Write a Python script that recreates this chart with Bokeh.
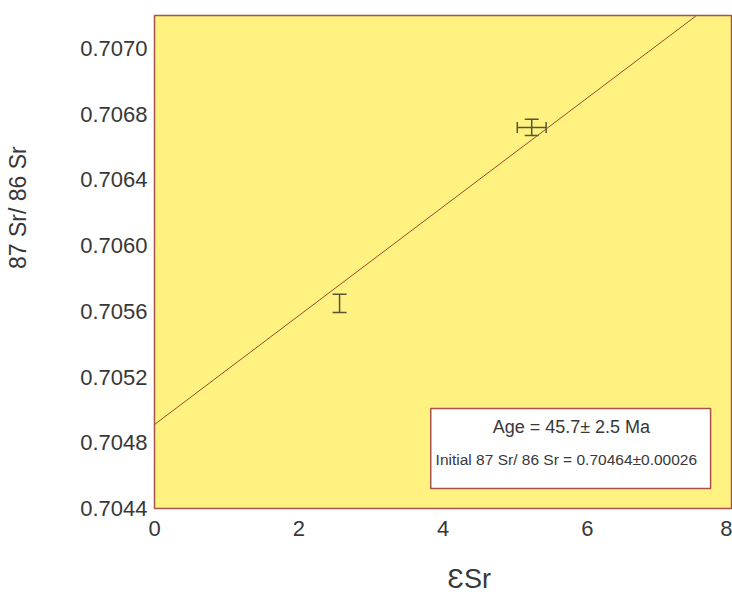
import math
from bokeh.plotting import figure
from bokeh.models import (ColumnDataSource, Whisker, TeeHead, Slope, BoxAnnotation,
                          Label, FixedTicker)
from bokeh.embed import file_html
from bokeh.resources import INLINE

# ---- data ----
pt_x = [2.566, 5.23]
pt_y = [0.705648, 0.706719]
pt_yerr = [0.000055, 0.000049]
pt2_xerr = [0.2]

fit_intercept = 0.704911
fit_slope = 0.0003312

x_ticks = [0, 2, 4, 6, 8]
y_ticks = [0.7044, 0.7048, 0.7052, 0.7056, 0.7060, 0.7064, 0.7068, 0.7072]
y_tick_labels = ["0.7044", "0.7048", "0.7052", "0.7056", "0.7060", "0.7064", "0.7068", "0.7070"]

age_text = "Age = 45.7\u00b1 2.5 Ma"
init_text = "Initial 87 Sr/ 86 Sr = 0.70464\u00b10.00026"
x_title = "\u0190Sr"
y_title = "87 Sr/ 86 Sr"

FONT = "Liberation Sans"
TXT = "#383838"
BORDER = "#a8504a"
YELLOW = "#FFF281"
BAR = "#55553a"
NBSP = "\u00a0"

p = figure(width=732, height=598, output_backend="svg", toolbar_location=None,
           x_range=(0, 8), y_range=(0.7044, 0.7074),
           min_border_left=154, min_border_right=1, min_border_top=15, min_border_bottom=90)
p.background_fill_color = YELLOW
p.border_fill_color = "white"
p.outline_line_color = BORDER
p.outline_line_width = 1.5
p.grid.visible = False

for ax in (p.xaxis[0], p.yaxis[0]):
    ax.axis_line_color = None
    ax.major_tick_line_color = None
    ax.minor_tick_line_color = None
    ax.major_label_text_font = FONT
    ax.major_label_text_color = TXT
    ax.axis_label_text_font = FONT
    ax.axis_label_text_font_style = "normal"
    ax.axis_label_text_color = TXT

p.xaxis.ticker = FixedTicker(ticks=x_ticks)
p.xaxis.major_label_text_font_size = "22px"
p.xaxis.major_label_standoff = 6
# leading non-breaking spaces shift the centred title to the right, as in the original
p.xaxis.axis_label = NBSP * 7 + x_title
p.xaxis.axis_label_text_font_size = "27px"
p.xaxis.axis_label_standoff = 25

p.yaxis.ticker = FixedTicker(ticks=y_ticks)
p.yaxis.major_label_overrides = {t: l for t, l in zip(y_ticks, y_tick_labels)}
p.yaxis.major_label_text_font_size = "22px"
p.yaxis.major_label_standoff = 1
# leading non-breaking spaces shift the centred title upwards, as in the original
p.yaxis.axis_label = NBSP * 17 + y_title
p.yaxis.axis_label_text_font_size = "23px"
p.yaxis.axis_label_standoff = 46

# regression line
p.add_layout(Slope(gradient=fit_slope, y_intercept=fit_intercept,
                   line_color="#9a4a2d", line_width=1))

# error bars
src = ColumnDataSource(dict(x=pt_x, lower=[y - e for y, e in zip(pt_y, pt_yerr)],
                            upper=[y + e for y, e in zip(pt_y, pt_yerr)]))
p.add_layout(Whisker(base="x", lower="lower", upper="upper", source=src, dimension="height",
                     line_color=BAR, line_width=1.5,
                     upper_head=TeeHead(size=14, line_color=BAR, line_width=1.5),
                     lower_head=TeeHead(size=14, line_color=BAR, line_width=1.5)))
src2 = ColumnDataSource(dict(y=[pt_y[1]], lower=[pt_x[1] - pt2_xerr[0]],
                             upper=[pt_x[1] + pt2_xerr[0]]))
p.add_layout(Whisker(base="y", lower="lower", upper="upper", source=src2, dimension="width",
                     line_color=BAR, line_width=1.5,
                     upper_head=TeeHead(size=11, line_color=BAR, line_width=1.5),
                     lower_head=TeeHead(size=11, line_color=BAR, line_width=1.5)))

# info box
p.add_layout(BoxAnnotation(left=3.83, right=7.71, bottom=0.704522, top=0.705009,
                           fill_color="white", fill_alpha=1, line_color=BORDER,
                           line_width=1.5, line_alpha=1))
p.add_layout(Label(x=5.78, y=0.704893, text=age_text, text_align="center",
                   text_baseline="middle", text_font=FONT, text_font_size="18px",
                   text_color=TXT))
p.add_layout(Label(x=5.71, y=0.704698, text=init_text, text_align="center",
                   text_baseline="middle", text_font=FONT, text_font_size="15.5px",
                   text_color=TXT))

open("out.html", "w").write(file_html(p, INLINE))
